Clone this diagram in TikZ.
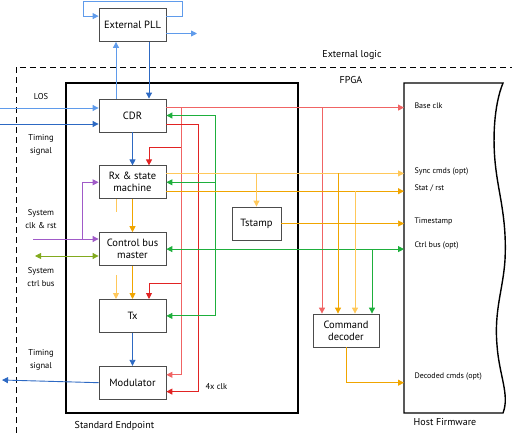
\documentclass[tikz,border=0pt]{standalone}
\usepackage{fontspec}
\setmainfont{PT Sans}
\usepackage{tikz}
\usetikzlibrary{positioning,arrows.meta}
\definecolor{pllblue}{RGB}{95,155,235}
\definecolor{sigblue}{RGB}{45,105,195}
\definecolor{clkred}{RGB}{225,35,35}
\definecolor{baseclkred}{RGB}{240,100,100}
\definecolor{busgreen}{RGB}{30,175,60}
\definecolor{cmdorange}{RGB}{240,165,0}
\definecolor{syncorange}{RGB}{255,200,90}
\definecolor{sysviolet}{RGB}{160,90,200}
\definecolor{busolive}{RGB}{130,170,30}

\begin{document}
\begin{tikzpicture}[x=1pt, y=-1pt,
  font=\fontsize{10.5}{12}\selectfont,
  blk/.style={rectangle, draw=black!70, line width=0.8pt, align=center,
              minimum width=67pt, minimum height=33pt, inner sep=1pt, fill=white},
  arr/.style={-{Triangle[length=6pt,width=6pt]}, line width=0.9pt},
  darr/.style={{Triangle[length=6pt,width=6pt]}-{Triangle[length=6pt,width=6pt]}, line width=0.9pt},
  sig/.style={font=\fontsize{8.5}{13}\selectfont, align=center},
  port/.style={font=\fontsize{8}{9}\selectfont, anchor=west},
  lbl/.style={font=\fontsize{10}{12}\selectfont}
]
\useasboundingbox (0,0) rectangle (512,433);
% FPGA boundary
\draw[line width=0.9pt, dash pattern=on 6pt off 4pt] (16,433) -- (16,67) -- (512,67);
\node[lbl] (extlbl) at (352,55) {External logic};
\node[lbl] (fpgalbl) at (351,80) {FPGA};
% endpoint and host
\node[draw, line width=1.6pt, minimum width=232pt, minimum height=330pt] (ep) at (182,248) {};
\node[lbl, anchor=north west] (eplbl) at ([xshift=6pt,yshift=-4pt]ep.south west) {Standard Endpoint};
\draw[line width=1.4pt] (404,413) -- (404,83) -- (503,83)
  .. controls (494,105) and (492,140) .. (496,170)
  .. controls (499,195) and (507,220) .. (505,260)
  .. controls (503,290) and (494,310) .. (497,345)
  .. controls (499,375) and (510,395) .. (503,413) -- cycle;
\node[lbl, anchor=north] (hwlbl) at (445,415) {Host Firmware};
\coordinate (hw) at (404,0);
% blocks
\node[blk] (pll) at (132.5,25) {External PLL};
\node[blk] (cdr) at (132.5,115.5) {CDR};
\node[blk, below=33pt of cdr] (rx) {Rx \& state\\machine};
\node[blk, below=33pt of rx] (cbm) {Control bus\\master};
\node[blk, below=33pt of cbm] (tx) {Tx};
\node[blk, below=33pt of tx] (mod) {Modulator};
\node[blk, minimum width=49pt] (tstamp) at (256.5,223.5) {Tstamp};
\node[blk, minimum width=66pt] (cmd) at (346,330.5) {Command\\decoder};
% columns and taps
\coordinate (c0) at (82,0);
\coordinate (c1) at (181,0);
\coordinate (c2) at (198,0);
\coordinate (c3) at (215,0);
\coordinate (k1) at (322,0);
\coordinate (k2) at (338,0);
\coordinate (k3) at (355,0);
\coordinate (k4) at (372,0);
\coordinate (base) at ([yshift=-9pt]cdr.north east);
\coordinate (clkx4) at ([yshift=8pt]cdr.south east);
\coordinate (sync) at ([yshift=-8pt]rx.north east);
\coordinate (stat) at ([yshift=8pt]rx.south east);
\coordinate (rxclk) at ([yshift=18pt]rx.north);
\coordinate (txclk) at ([yshift=16pt]tx.north);
\coordinate (modbase) at ([yshift=-9pt]mod.north east);
\coordinate (mod4x) at ([yshift=8pt]mod.south east);
% PLL
\coordinate (loopr) at (182,1);
\coordinate (loopl) at (83,1);
\coordinate (pllout) at (197,33.5);
\draw[arr, pllblue] ([yshift=-8pt]pll.north east) -| (loopr) -- (loopl) |- ([yshift=-8pt]pll.north west);
\draw[arr, pllblue] (pllout -| pll.east) -- (pllout);
\draw[arr, pllblue] ([xshift=-16.5pt]cdr.north) -- ([xshift=-16.5pt]pll.south);
\draw[arr, sigblue] ([xshift=16.5pt]pll.south) -- ([xshift=16.5pt]cdr.north);
% inputs
\coordinate (losin) at (0,108);
\coordinate (tsin) at (0,124);
\draw[arr, pllblue] (losin) -- (losin -| cdr.west);
\draw[arr, sigblue] (tsin) -- (tsin -| cdr.west);
\node[sig] (loslbl) at (41,97) {LOS};
\node[sig] (tslbl) at (41,145) {Timing\\signal};
\coordinate (sysclk) at (33,239);
\coordinate (sysbus) at (35,256);
\draw[arr, sysviolet] (sysclk) -- (sysclk -| cbm.west);
\draw[arr, sysviolet] (sysclk -| c0) |- (rx.west);
\draw[darr, busolive] (sysbus) -- (sysbus -| cbm.west);
\node[sig] (clklbl) at (41,219) {System\\clk \& rst};
\node[sig] (buslbl) at (41,277) {System\\ctrl bus};
% datapath
\draw[arr, sigblue] (cdr.south) -- (rx.north);
\draw[arr, cmdorange] (rx.south) -- (cbm.north);
\draw[syncorange, line width=0.9pt] ([xshift=-16.5pt]rx.south) -- ++(0,13);
\draw[arr, syncorange] ([xshift=-16.5pt,yshift=24pt]tx.north) -- ([xshift=-16.5pt]tx.north);
\draw[arr, cmdorange] (cbm.south) -- (tx.north);
\draw[arr, sigblue] (tx.south) -- (mod.north);
\coordinate (modout) at (2,380);
\draw[arr, sigblue] (mod.west) -- (modout);
\node[sig] (outlbl) at (41,360) {Timing\\signal};
% clocks
\draw[arr, baseclkred] (base) -- (base -| hw);
\draw[arr, baseclkred] (base -| c1) |- (modbase);
\draw[arr, baseclkred] (base -| k1) -- (cmd.north -| k1);
\draw[arr, clkred] (rxclk -| c1) -| ([xshift=16.5pt]rx.north);
\draw[arr, clkred] (txclk -| c1) -| ([xshift=16.5pt]tx.north);
\draw[arr, clkred] (clkx4) -- (clkx4 -| c2) |- (mod4x);
\node[sig, anchor=west] (x4lbl) at (202,387) {4x clk};
% control bus
\draw[arr, busgreen] (tx.east -| c3) -- (cdr.east -| c3) -- (cdr.east);
\draw[arr, busgreen] (rx.east -| c3) -- (rx.east);
\draw[arr, busgreen] (tx.east -| c3) -- (tx.east);
\draw[darr, busgreen] (cbm.east) -- (cbm.east -| hw);
\draw[arr, busgreen] (cbm.east -| k4) -- (cmd.north -| k4);
% commands
\draw[arr, syncorange] (sync) -- (sync -| hw);
\draw[arr, cmdorange] (stat) -- (stat -| hw);
\draw[arr, syncorange] (sync -| tstamp.north) -- (tstamp.north);
\draw[arr, cmdorange] (sync -| k2) -- (cmd.north -| k2);
\draw[arr, syncorange] (stat -| k3) -- (cmd.north -| k3);
\draw[arr, cmdorange, line width=0.6pt] (tstamp.east) -- (tstamp.east -| hw);
\draw[arr, cmdorange] (cmd.south) |- (mod.east -| hw);
% host ports
\node[port] (p1) at (411,106) {Base clk};
\node[port] (p2) at (411,172) {Sync cmds (opt)};
\node[port] (p3) at (411,188) {Stat / rst};
\node[port] (p4) at (411,221) {Timestamp};
\node[port] (p5) at (411,246) {Ctrl bus (opt)};
\node[port] (p6) at (411,377) {Decoded cmds (opt)};
\end{tikzpicture}
\end{document}
